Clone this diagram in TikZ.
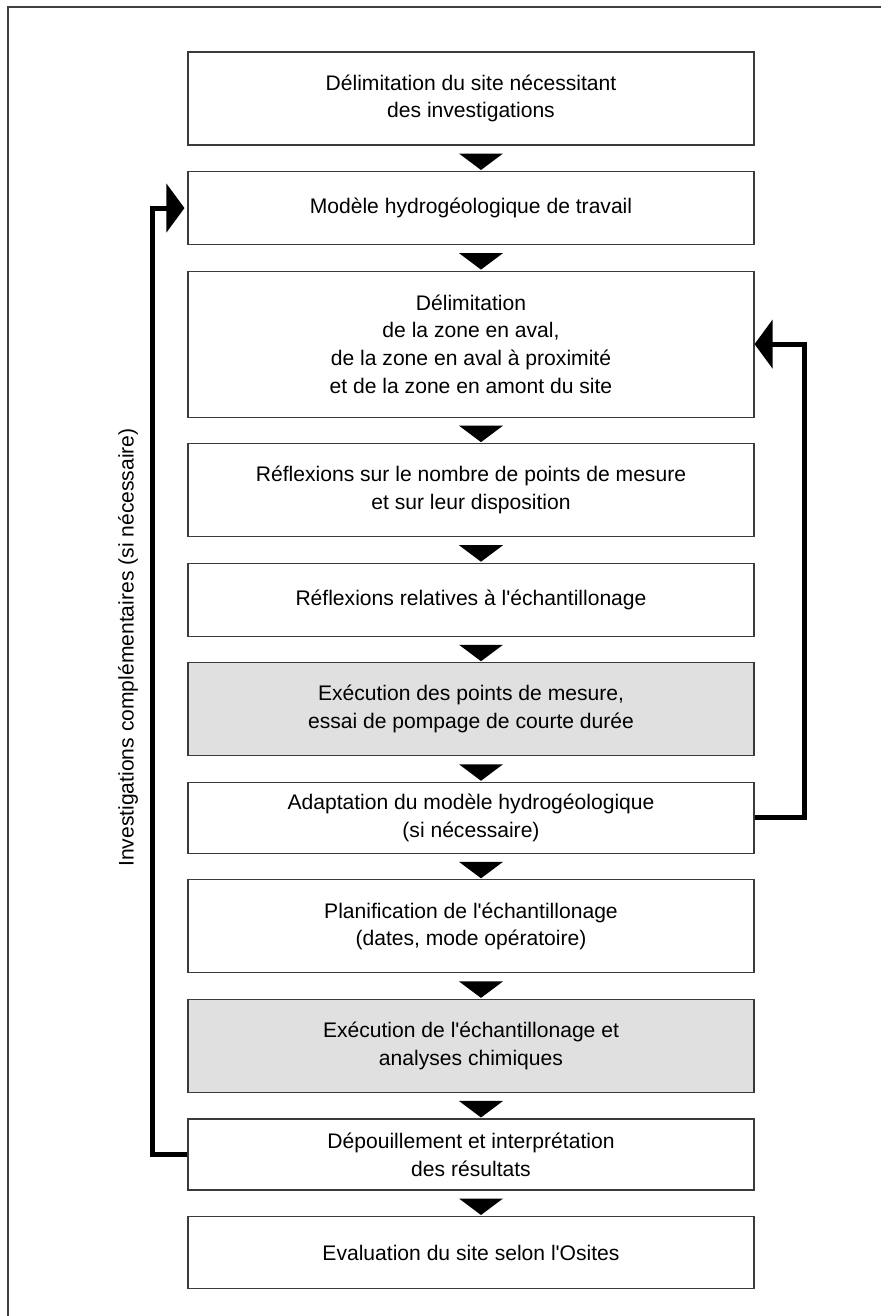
\documentclass[tikz,border=0pt]{standalone}
\usepackage{fontspec}
\setmainfont{Liberation Sans}
\usetikzlibrary{positioning, calc, arrows.meta}
\definecolor{Dark}{HTML}{000000}
\definecolor{Edge}{HTML}{3A3A3A}
\definecolor{Shade}{HTML}{E0E0E0}
\newcommand{\apos}{\textquotesingle}
\tikzset{
    stepnode/.style={rectangle, draw=Edge, line width=0.6pt, fill=white, text=Dark, align=center, minimum width=11.32cm, font=\fontsize{12}{15.8}\selectfont},
    shadenode/.style={stepnode, fill=Shade},
    loopline/.style={-{Triangle[length=0.36cm, width=0.96cm]}, line width=2.8pt, color=Dark},
    frameline/.style={line width=0.8pt, color=black!75},
}

\begin{document}
\begin{tikzpicture}[node distance=0.51cm]
    \useasboundingbox (0,0) rectangle (17.62,-26.32);
    % Cadre
    \draw[frameline] (0.16,-26.32) -- (0.16,-0.14) -- (17.62,-0.14);

    % Etapes
    \node[stepnode, minimum height=1.86cm] (site) at (9.42,-1.97) {Délimitation du site nécessitant\\des investigations};
    \node[stepnode, minimum height=1.46cm, below=of site] (modele) {Modèle hydrogéologique de travail};
    \node[stepnode, minimum height=2.92cm, below=of modele] (zones) {Délimitation\\de la zone en aval,\\de la zone en aval à proximité\\et de la zone en amont du site};
    \node[stepnode, minimum height=1.86cm, below=of zones] (points) {Réflexions sur le nombre de points de mesure\\et sur leur disposition};
    \node[stepnode, minimum height=1.46cm, below=of points] (echant) {Réflexions relatives à l\apos échantillonage};
    \node[shadenode, minimum height=1.86cm, below=of echant] (execpts) {Exécution des points de mesure,\\essai de pompage de courte durée};
    \node[stepnode, minimum height=1.42cm, below=of execpts] (adapt) {Adaptation du modèle hydrogéologique\\(si nécessaire)};
    \node[stepnode, minimum height=1.86cm, below=of adapt] (planif) {Planification de l\apos échantillonage\\(dates, mode opératoire)};
    \node[shadenode, minimum height=1.86cm, below=of planif] (execech) {Exécution de l\apos échantillonage et\\analyses chimiques};
    \node[stepnode, minimum height=1.42cm, below=of execech] (depouil) {Dépouillement et interprétation\\des résultats};
    \node[stepnode, minimum height=1.44cm, below=of depouil] (evaluation) {Evaluation du site selon l\apos Osites};

    % Fleches entre etapes
    \foreach \a/\b in {site/modele, modele/zones, zones/points, points/echant, echant/execpts,
                       execpts/adapt, adapt/planif, planif/execech, execech/depouil, depouil/evaluation}
        \fill[Dark] ($(\a.south)+(-0.24,-0.16)$) -- ($(\a.south)+(0.64,-0.16)$) -- ($(\b.north)+(0.2,0.02)$) -- cycle;

    % Retours
    \draw[loopline] (adapt.east) -- ++(1.0,0) |- (zones.east);
    \draw[loopline, shorten >=0.06cm] (depouil.west) -- ++(-0.7,0) |- (modele.west);
    \node[rotate=90, font=\fontsize{12}{15.8}\selectfont] (compl) at (2.56,-12.95) {Investigations complémentaires (si nécessaire)};
\end{tikzpicture}
\end{document}
